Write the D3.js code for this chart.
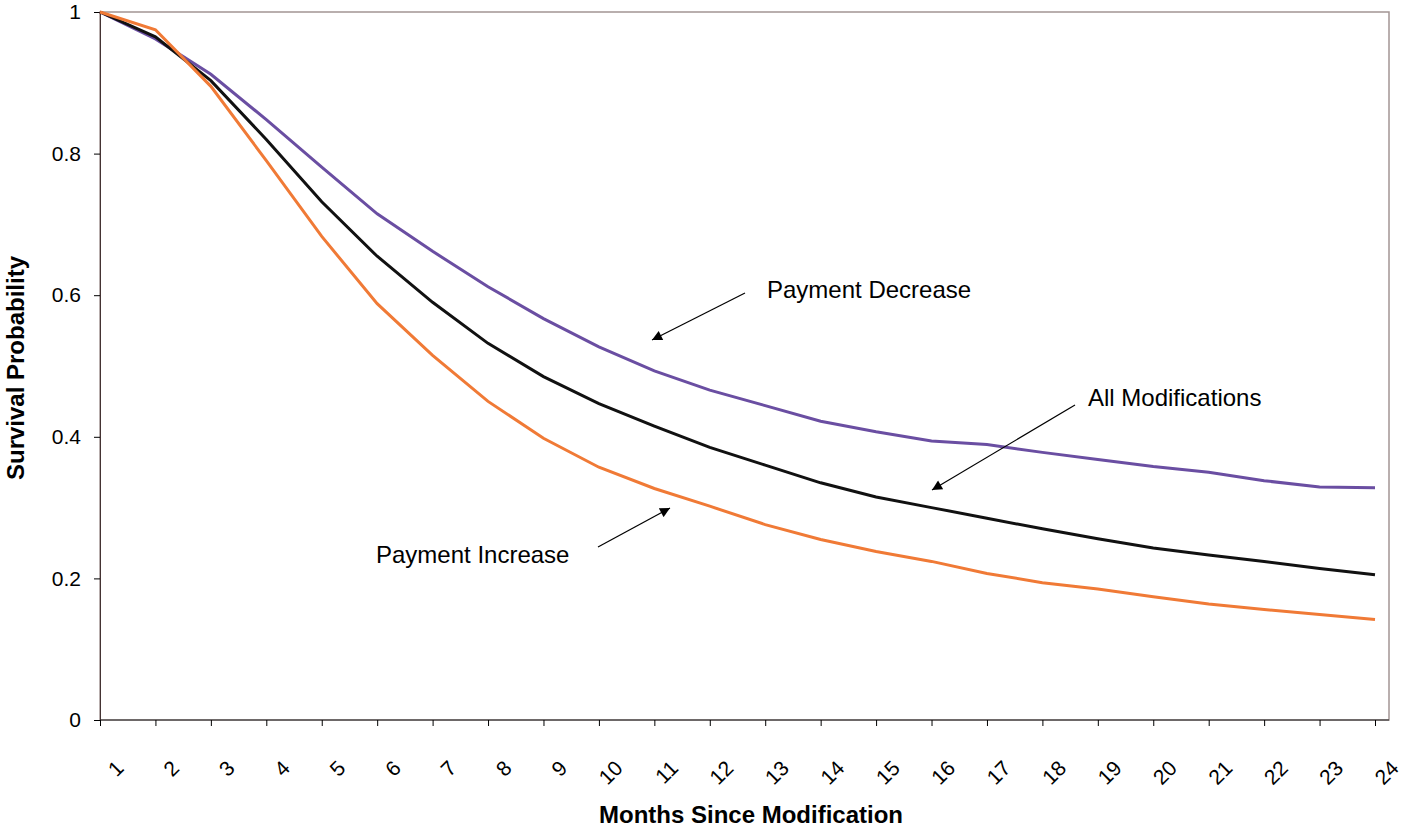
<!DOCTYPE html>
<html><head><meta charset="utf-8">
<script src="https://cdn.jsdelivr.net/npm/d3@7"></script>
<style>body{margin:0;background:#fff}text{font-family:Arial,"Liberation Sans",sans-serif}</style>
</head><body><div id="chart"></div>
<script>
const months = d3.range(1, 25);
const decrease = [1.0,0.962,0.912,0.848,0.781,0.715,0.662,0.612,0.567,0.527,0.493,0.466,0.444,0.422,0.407,0.394,0.389,0.378,0.368,0.358,0.350,0.338,0.329,0.328];
const allMods = [1.0,0.965,0.903,0.82,0.732,0.655,0.59,0.532,0.485,0.447,0.415,0.385,0.36,0.335,0.315,0.30,0.285,0.27,0.256,0.243,0.233,0.224,0.214,0.205];
const increase = [1.0,0.975,0.895,0.79,0.683,0.588,0.515,0.45,0.398,0.357,0.327,0.302,0.276,0.255,0.238,0.224,0.207,0.194,0.185,0.174,0.164,0.156,0.149,0.142];
const yTicks = [0, 0.2, 0.4, 0.6, 0.8, 1];

const width = 1403, height = 828;
const svg = d3.select("#chart").append("svg").attr("width", width).attr("height", height);
const x = d3.scalePoint().domain(months).range([100, 1375]);
const y = d3.scaleLinear().domain([0, 1]).range([720, 12]);

// frame
svg.append("rect").attr("x", 100).attr("y", 12).attr("width", 1289).attr("height", 708)
  .attr("fill", "none").attr("stroke", "#a39594").attr("stroke-width", 1.5);

const yAxis = svg.append("g").attr("transform", "translate(100,0)")
  .call(d3.axisLeft(y).tickValues(yTicks).tickSize(6).tickFormat(d => d === 0 || d === 1 ? d : d3.format(".1f")(d)));
yAxis.select(".domain").attr("stroke", "#443333");
yAxis.selectAll("text").attr("font-size", 21).attr("fill", "#000").attr("dx", -10);

const xAxis = svg.append("g").attr("transform", "translate(0,720)")
  .call(d3.axisBottom(x).tickSize(6).tickSizeOuter(0));
xAxis.select(".domain").attr("stroke", "#222").attr("d", "M100,0H1389");
xAxis.selectAll("text").attr("font-size", 21).attr("fill", "#000")
  .attr("text-anchor", "end").attr("transform", "translate(13,38) rotate(-45)").attr("dy", "0.35em");

const line = d3.line().x((d, i) => x(months[i])).y(d => y(d));
[[decrease, "#6a4ea2"], [allMods, "#111"], [increase, "#f07a36"]].forEach(([s, c]) => {
  svg.append("path").datum(s).attr("d", line).attr("fill", "none").attr("stroke", c).attr("stroke-width", 3);
});

svg.append("defs").append("marker").attr("id", "ah").attr("viewBox", "0 0 10 10")
  .attr("refX", 10).attr("refY", 5).attr("markerWidth", 12).attr("markerHeight", 10)
  .attr("markerUnits", "userSpaceOnUse").attr("orient", "auto")
  .append("path").attr("d", "M0,0L10,5L0,10Z").attr("fill", "#000");

const notes = [
  {t: "Payment Decrease", tx: 767, ty: 298, a: [745, 293, 652, 340]},
  {t: "All Modifications", tx: 1088, ty: 406, a: [1075, 405, 932, 490]},
  {t: "Payment Increase", tx: 376, ty: 563, a: [598, 547, 670, 508]}
];
notes.forEach(n => {
  svg.append("text").attr("x", n.tx).attr("y", n.ty).attr("font-size", 24).text(n.t);
  svg.append("line").attr("x1", n.a[0]).attr("y1", n.a[1]).attr("x2", n.a[2]).attr("y2", n.a[3])
    .attr("stroke", "#000").attr("stroke-width", 1.2).attr("marker-end", "url(#ah)");
});

svg.append("text").attr("x", 751).attr("y", 823).attr("text-anchor", "middle")
  .attr("font-size", 24).attr("font-weight", "bold").text("Months Since Modification");
svg.append("text").attr("transform", "translate(24,368) rotate(-90)").attr("text-anchor", "middle")
  .attr("font-size", 24).attr("font-weight", "bold").text("Survival Probability");
</script></body></html>
